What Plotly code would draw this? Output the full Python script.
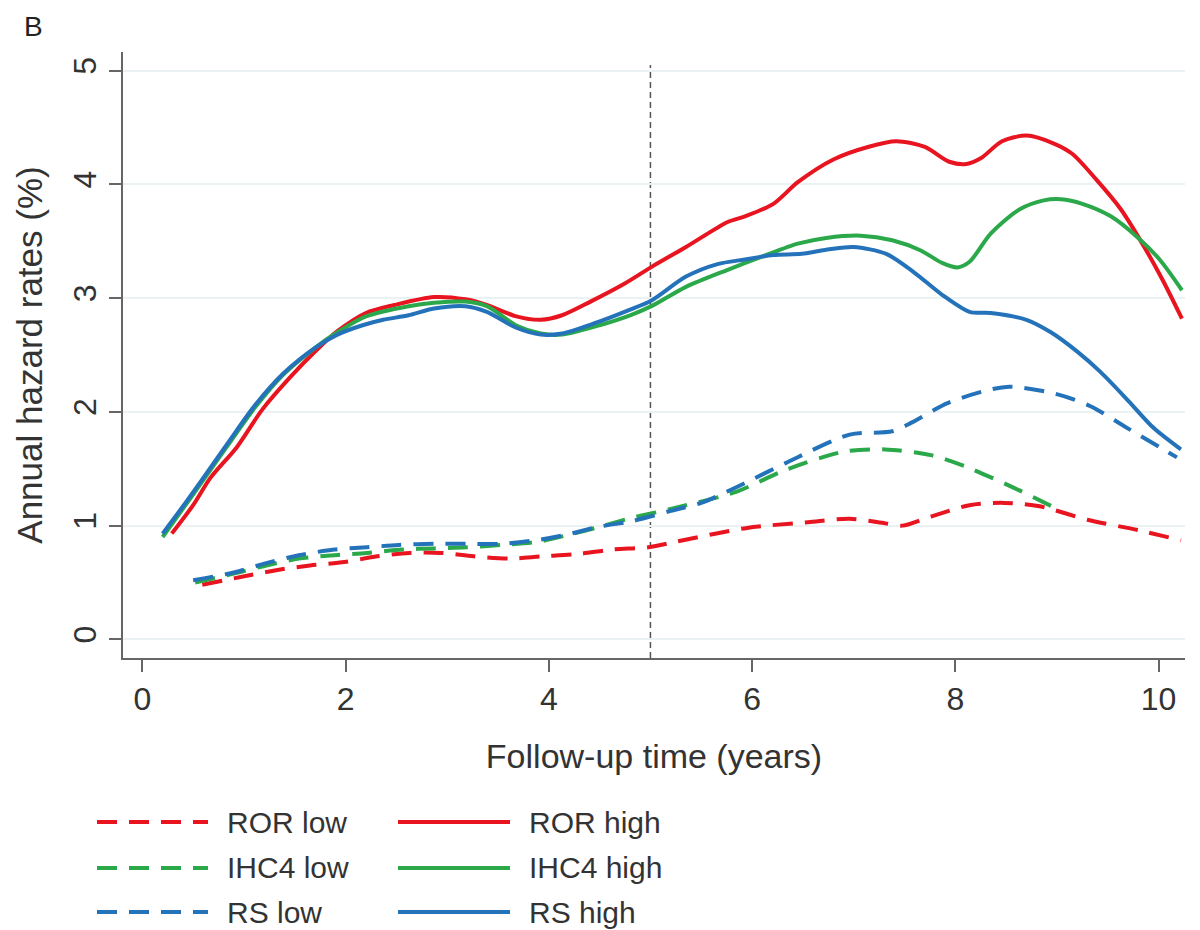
import plotly.graph_objects as go

# ---------------- data ----------------
ror_low_x = [0.59, 0.98, 1.33, 1.65, 1.99, 2.31, 2.63, 2.94, 3.26, 3.61, 3.93, 4.28, 4.63, 4.98, 5.26, 5.95, 6.55, 6.96, 7.31, 7.48, 7.76, 8.14, 8.48, 8.83, 9.31, 9.8, 10.22]
ror_low_y = [0.48, 0.55, 0.61, 0.65, 0.68, 0.73, 0.76, 0.76, 0.73, 0.71, 0.73, 0.75, 0.79, 0.81, 0.86, 0.98, 1.03, 1.06, 1.02, 1.0, 1.08, 1.18, 1.2, 1.17, 1.05, 0.96, 0.87]

ihc4_low_x = [0.52, 0.91, 1.22, 1.54, 1.89, 2.21, 2.56, 2.87, 3.19, 3.54, 3.9, 4.2, 4.5, 4.82, 5.17, 5.85, 6.33, 6.9, 7.31, 7.76, 8.1, 8.63, 8.95]
ihc4_low_y = [0.5, 0.58, 0.65, 0.71, 0.74, 0.76, 0.79, 0.8, 0.81, 0.83, 0.86, 0.92, 0.99, 1.07, 1.14, 1.3, 1.49, 1.65, 1.67, 1.62, 1.52, 1.31, 1.17]

rs_low_x = [0.5, 0.91, 1.22, 1.54, 1.89, 2.21, 2.52, 2.87, 3.19, 3.54, 3.86, 4.17, 4.49, 4.82, 5.2, 5.5, 5.85, 6.33, 6.96, 7.38, 7.58, 7.93, 8.5, 8.98, 9.33, 9.67, 10.18]
rs_low_y = [0.52, 0.59, 0.67, 0.74, 0.79, 0.81, 0.83, 0.84, 0.84, 0.84, 0.87, 0.92, 0.99, 1.04, 1.13, 1.2, 1.34, 1.55, 1.8, 1.83, 1.91, 2.08, 2.22, 2.16, 2.05, 1.87, 1.6]

ror_high_x = [0.29, 0.5, 0.67, 0.93, 1.18, 1.46, 1.71, 1.92, 2.2, 2.48, 2.87, 3.18, 3.39, 3.68, 3.92, 4.13, 4.41, 4.73, 5.02, 5.35, 5.76, 5.93, 6.21, 6.45, 6.8, 7.14, 7.42, 7.7, 7.94, 8.11, 8.25, 8.46, 8.7, 8.97, 9.15, 9.39, 9.63, 9.84, 10.04, 10.23]
ror_high_y = [0.93, 1.18, 1.42, 1.69, 2.02, 2.31, 2.54, 2.71, 2.87, 2.94, 3.01, 2.99, 2.94, 2.84, 2.81, 2.85, 2.97, 3.12, 3.28, 3.45, 3.67, 3.72, 3.83, 4.02, 4.22, 4.33, 4.38, 4.33, 4.2, 4.18, 4.23, 4.38, 4.43, 4.36, 4.27, 4.04, 3.78, 3.48, 3.16, 2.82]

ihc4_high_x = [0.2, 0.4, 0.6, 0.86, 1.11, 1.39, 1.71, 1.92, 2.2, 2.62, 2.87, 3.18, 3.39, 3.68, 3.92, 4.13, 4.45, 4.8, 5.01, 5.35, 5.76, 6.11, 6.45, 6.73, 7.07, 7.38, 7.66, 7.87, 8.02, 8.14, 8.35, 8.63, 8.87, 9.04, 9.25, 9.53, 9.8, 10.01, 10.23]
ihc4_high_y = [0.9, 1.15, 1.4, 1.73, 2.04, 2.33, 2.57, 2.7, 2.84, 2.93, 2.96, 2.97, 2.93, 2.76, 2.69, 2.68, 2.75, 2.85, 2.93, 3.1, 3.25, 3.37, 3.48, 3.53, 3.55, 3.51, 3.42, 3.31, 3.27, 3.32, 3.57, 3.78, 3.86, 3.87, 3.83, 3.72, 3.53, 3.34, 3.07]

rs_high_x = [0.2, 0.4, 0.6, 0.86, 1.11, 1.39, 1.71, 1.92, 2.16, 2.37, 2.62, 2.87, 3.18, 3.39, 3.68, 3.92, 4.13, 4.45, 4.8, 5.01, 5.35, 5.66, 5.93, 6.21, 6.49, 6.76, 7.0, 7.32, 7.59, 7.87, 8.14, 8.35, 8.7, 8.94, 9.2, 9.43, 9.7, 9.95, 10.22]
rs_high_y = [0.93, 1.17, 1.42, 1.75, 2.06, 2.34, 2.57, 2.68, 2.76, 2.81, 2.85, 2.91, 2.93, 2.88, 2.74, 2.68, 2.69, 2.78, 2.9, 2.98, 3.19, 3.3, 3.34, 3.38, 3.39, 3.43, 3.45, 3.39, 3.23, 3.03, 2.88, 2.87, 2.81, 2.7, 2.53, 2.35, 2.1, 1.86, 1.67]

series_names = ["ROR low", "ROR high", "IHC4 low", "IHC4 high", "RS low", "RS high"]
x_ticks = [0, 2, 4, 6, 8, 10]
y_ticks = [0, 1, 2, 3, 4, 5]
cutoff_year = 5

# ---------------- style ----------------
RED = "#E8141F"
GREEN = "#2BA84A"
BLUE = "#2473BA"
FONT = "Liberation Sans, Arial, sans-serif"
DASH = "20px,12px"

# the page body adds an 8px margin; compensate so the figure fills the window
OFF = 8
W, H = 1200 - OFF, 930 - OFF

series = [
    (series_names[0], ror_low_x, ror_low_y, RED, DASH),
    (series_names[2], ihc4_low_x, ihc4_low_y, GREEN, DASH),
    (series_names[4], rs_low_x, rs_low_y, BLUE, DASH),
    (series_names[1], ror_high_x, ror_high_y, RED, "solid"),
    (series_names[3], ihc4_high_x, ihc4_high_y, GREEN, "solid"),
    (series_names[5], rs_high_x, rs_high_y, BLUE, "solid"),
]

fig = go.Figure()
for name, xs, ys, col, dash in series:
    fig.add_trace(go.Scatter(
        x=xs, y=ys, mode="lines", name=name, showlegend=False,
        line=dict(color=col, width=4, dash=dash, shape="spline", smoothing=0.8),
    ))

# vertical reference line at 5 years
fig.add_shape(type="line", xref="x", yref="y", x0=cutoff_year, x1=cutoff_year,
              y0=-0.164, y1=5.05, line=dict(color="#555555", width=1.5, dash="6px,4px"),
              layer="below")

# ---------------- manual legend ----------------
# positions given in target-window pixels, converted to figure pixels
L, R, T, B = 123 - OFF, 1185 - OFF, 52 - OFF, 658 - OFF
def px2paper_x(px):
    return (px - OFF - L) / (R - L)
def px2paper_y(py):
    return (B - (py - OFF)) / (B - T)

rows_py = [822, 868, 912]
legend_items = [
    (series_names[0], RED, DASH, 0, 0), (series_names[1], RED, "solid", 1, 0),
    (series_names[2], GREEN, DASH, 0, 1), (series_names[3], GREEN, "solid", 1, 1),
    (series_names[4], BLUE, DASH, 0, 2), (series_names[5], BLUE, "solid", 1, 2),
]
col_line = [(97, 208, 225), (398, 510, 527)]
for name, col, dash, c, r in legend_items:
    x0p, x1p, txp = col_line[c]
    yy = px2paper_y(rows_py[r])
    fig.add_shape(type="line", xref="paper", yref="paper",
                  x0=px2paper_x(x0p), x1=px2paper_x(x1p), y0=yy, y1=yy,
                  line=dict(color=col, width=4, dash=dash))
    fig.add_annotation(xref="paper", yref="paper", x=px2paper_x(txp), y=yy,
                       text=name, showarrow=False, xanchor="left", yanchor="middle",
                       font=dict(family=FONT, size=30, color="#333333"))

# panel label
fig.add_annotation(xref="paper", yref="paper", x=px2paper_x(22), y=px2paper_y(OFF + 1),
                   text="B", showarrow=False, xanchor="left", yanchor="top",
                   font=dict(family=FONT, size=28, color="#222222"))

fig.update_layout(
    width=W, height=H,
    margin=dict(l=L, r=W - R, t=T, b=H - B),
    paper_bgcolor="white", plot_bgcolor="white",
    font=dict(family=FONT, color="#333333"),
    showlegend=False,
)
fig.update_xaxes(
    range=[-0.19, 10.26], tickvals=x_ticks, ticktext=[str(v) for v in x_ticks],
    ticks="outside", ticklen=12, tickwidth=1.5, tickcolor="#666666",
    showline=True, linecolor="#666666", linewidth=1.5, showgrid=False, zeroline=False,
    tickfont=dict(family=FONT, size=32, color="#333333"), automargin=False,
    title=dict(text="Follow-up time (years)", font=dict(family=FONT, size=34, color="#333333"), standoff=28),
)
fig.update_yaxes(
    range=[-0.164, 5.165], tickvals=y_ticks, ticktext=[str(v) for v in y_ticks],
    ticks="outside", ticklen=12, tickwidth=1.5, tickcolor="#666666", tickangle=-90,
    showline=True, linecolor="#666666", linewidth=1.5,
    showgrid=True, gridcolor="#EAF2F4", gridwidth=1.5, zeroline=False,
    tickfont=dict(family=FONT, size=32, color="#333333"), automargin=False,
    title=dict(text="Annual hazard rates (%)", font=dict(family=FONT, size=35, color="#333333"), standoff=14),
)

fig.write_html("out.html")
